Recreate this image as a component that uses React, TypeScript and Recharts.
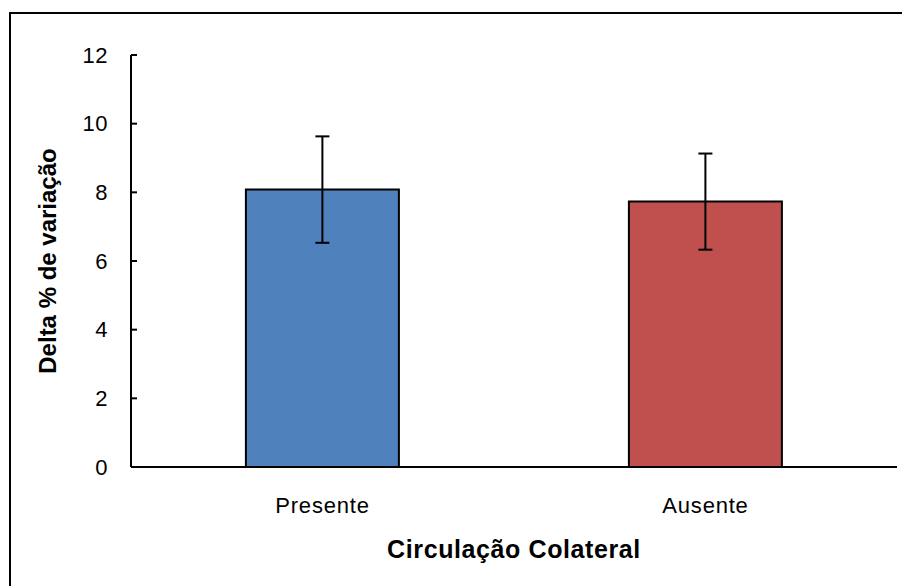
import React from 'react';
import { BarChart, Bar, XAxis, YAxis, ErrorBar, Cell, Label } from 'recharts';

const categories = ['Presente', 'Ausente'];
const means = [8.08, 7.73];
const errors = [1.55, 1.4];
const colors = ['#4F81BD', '#C0504D'];
const yTicks = [0, 2, 4, 6, 8, 10, 12];
const xTitle = 'Circulação Colateral';
const yTitle = 'Delta % de variação';

const data = categories.map((c, i) => ({ name: c, value: means[i], err: errors[i] }));
const FONT = '"Liberation Sans", Arial, sans-serif';

const XTitle = (props: any) => {
  const vb = props.viewBox || {};
  const cx = vb.x + vb.width / 2;
  return (
    <text x={cx} y={vb.y + 91} textAnchor="middle" fontFamily={FONT} fontWeight="bold" fontSize={25} letterSpacing={0.6} fill="#000">
      {xTitle}
    </text>
  );
};

const YTitle = (props: any) => {
  const vb = props.viewBox || {};
  const cx = vb.x + 47;
  const cy = vb.y + vb.height / 2;
  return (
    <text x={cx} y={cy} transform={`rotate(-90 ${cx} ${cy})`} textAnchor="middle" dominantBaseline="central" fontFamily={FONT} fontWeight="bold" fontSize={24} fill="#000">
      {yTitle}
    </text>
  );
};

export default function App() {
  return (
    <div style={{ position: 'absolute', left: 0, top: 0, width: 902, height: 586, overflow: 'hidden', background: '#fff' }}>
      <div style={{ position: 'absolute', left: 9, top: 12, width: 1000, height: 1000, border: '2px solid #000', boxSizing: 'border-box' }} />
      <div style={{ position: 'absolute', left: 0, top: 0 }}>
        <BarChart width={902} height={586} data={data} margin={{ top: 55, right: 5, bottom: 19, left: 0 }} barCategoryGap="30%">
          <XAxis
            dataKey="name"
            height={100}
            axisLine={{ stroke: '#000', strokeWidth: 2 }}
            tickLine={false}
            tickSize={0}
            tickMargin={30}
            tick={{ fill: '#000', fontSize: 22, fontFamily: FONT, letterSpacing: 0.8 }}
          >
            <Label content={XTitle} />
          </XAxis>
          <YAxis
            width={131}
            domain={[0, 12]}
            ticks={yTicks}
            interval={0}
            axisLine={{ stroke: '#000', strokeWidth: 2 }}
            tickLine={{ stroke: '#000', strokeWidth: 2 }}
            tickSize={-6}
            tickMargin={29}
            tick={{ fill: '#000', fontSize: 22, fontFamily: FONT, letterSpacing: 0.5 }}
          >
            <Label content={YTitle} />
          </YAxis>
          <Bar dataKey="value" stroke="#000" strokeWidth={2} isAnimationActive={false}>
            {data.map((d, i) => (
              <Cell key={d.name} fill={colors[i]} />
            ))}
            <ErrorBar dataKey="err" width={7} stroke="#000" strokeWidth={2} direction="y" isAnimationActive={false} />
          </Bar>
        </BarChart>
      </div>
    </div>
  );
}
